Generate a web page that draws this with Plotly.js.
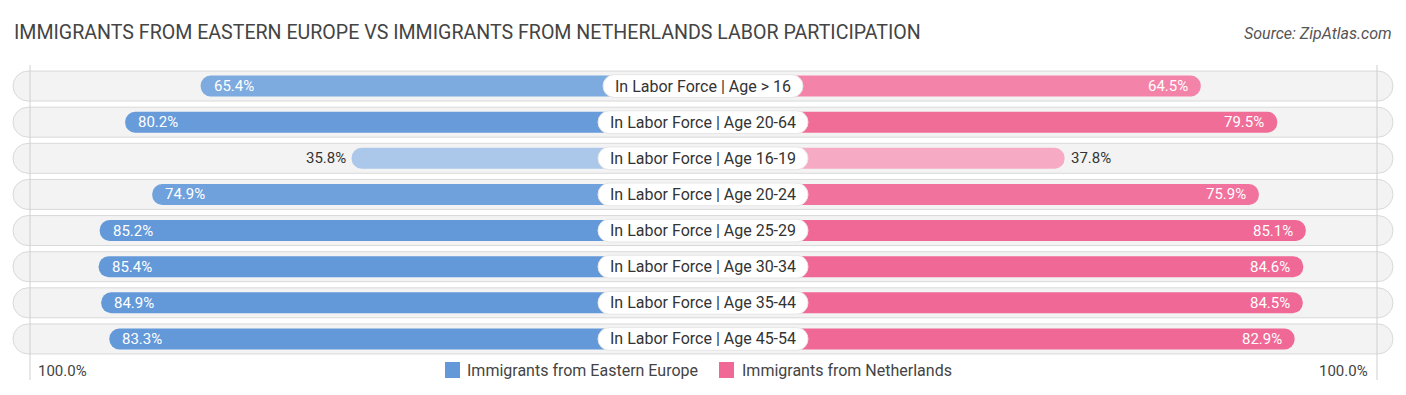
<!DOCTYPE html>
<html>
<head>
<meta charset="utf-8">
<script src="https://cdn.plot.ly/plotly-3.0.1.min.js"></script>
<style>
html,body{margin:0;padding:0;background:#fff;}
#chart{width:1406px;height:395px;}
</style>
</head>
<body>
<div id="chart"></div>
<script>
// ---------------- data ----------------
const categories = [
  "In Labor Force | Age > 16",
  "In Labor Force | Age 20-64",
  "In Labor Force | Age 16-19",
  "In Labor Force | Age 20-24",
  "In Labor Force | Age 25-29",
  "In Labor Force | Age 30-34",
  "In Labor Force | Age 35-44",
  "In Labor Force | Age 45-54"
];
const easternEurope = [65.4, 80.2, 35.8, 74.9, 85.2, 85.4, 84.9, 83.3];
const netherlands   = [64.5, 79.5, 37.8, 75.9, 85.1, 84.6, 84.5, 82.9];
const seriesNames = ["Immigrants from Eastern Europe", "Immigrants from Netherlands"];
const chartTitle = "IMMIGRANTS FROM EASTERN EUROPE VS IMMIGRANTS FROM NETHERLANDS LABOR PARTICIPATION";
const sourceText = "Source: ZipAtlas.com";
const axisMaxLabel = "100.0%";

// ---------------- layout constants ----------------
const W = 1406, H = 395;
const T = 68, B = 38;               // plot margins (px)
const R = 137.84;                   // half range of x axis (units of %)
const OFFSET = 33.1;                // bars start behind the centre label
const PXU = W / (2 * R);            // px per unit
const BLUE = [99, 153, 217];
const PINK = [240, 104, 149];
const FONT = "Roboto, 'Open Sans', sans-serif";

function shade(rgb, v) {
  const k = Math.max(0, Math.min(1, 0.19 + 0.0098 * v));
  const c = rgb.map(ch => Math.round(255 - (255 - ch) * k));
  return `rgb(${c[0]},${c[1]},${c[2]})`;
}
function py(p) { return (H - B - p) / (H - T - B); }
function px(p) { return p / W; }

// measure label widths
const cv = document.createElement("canvas").getContext("2d");
cv.font = "16px Roboto";
const boxW = categories.map(c => (cv.measureText(c).width + 24) / PXU);

const idx = categories.map((_, i) => i);

const traces = [];
// row background pills
traces.push({
  type: "bar", orientation: "h", y: idx,
  x: idx.map(() => 2 * (R - 2.55)), base: idx.map(() => -(R - 2.55)),
  width: 0.83,
  marker: {color: "#f3f3f3", line: {color: "#d9d9d9", width: 1}, cornerradius: 15},
  hoverinfo: "skip", showlegend: false
});
// left bars (continuous from the centre)
traces.push({
  type: "bar", orientation: "h", y: idx, name: seriesNames[0],
  x: easternEurope.map(v => -(OFFSET + v)), base: easternEurope.map(() => 0),
  width: 0.58,
  marker: {color: easternEurope.map(v => shade(BLUE, v)), cornerradius: 10.5},
  hoverinfo: "skip", showlegend: false
});
// right bars
traces.push({
  type: "bar", orientation: "h", y: idx, name: seriesNames[1],
  x: netherlands.map(v => OFFSET + v), base: netherlands.map(() => 0),
  width: 0.58,
  marker: {color: netherlands.map(v => shade(PINK, v)), cornerradius: 10.5},
  hoverinfo: "skip", showlegend: false
});
// centre label boxes
traces.push({
  type: "bar", orientation: "h", y: idx,
  x: boxW, base: boxW.map(w => -w / 2),
  width: 0.63,
  marker: {color: "#ffffff", line: {color: "#e6e6e6", width: 1}, cornerradius: 11.5},
  hoverinfo: "skip", showlegend: false
});

const annotations = [];
categories.forEach((c, i) => {
  annotations.push({x: 0, y: i, xref: "x", yref: "y", text: c, showarrow: false,
    font: {family: FONT, size: 16, color: "#333"}, xanchor: "center", yanchor: "middle"});
  const lv = easternEurope[i], rv = netherlands[i];
  const lin = lv >= 50, rin = rv >= 50;
  annotations.push({x: -(OFFSET + lv), y: i, xref: "x", yref: "y", text: lv.toFixed(1) + "%",
    showarrow: false, xanchor: lin ? "left" : "right", xshift: lin ? 11 : -4, yanchor: "middle",
    font: {family: FONT, size: 15, color: lin ? "#ffffff" : "#333"}});
  annotations.push({x: OFFSET + rv, y: i, xref: "x", yref: "y", text: rv.toFixed(1) + "%",
    showarrow: false, xanchor: rin ? "right" : "left", xshift: rin ? -11 : 4, yanchor: "middle",
    font: {family: FONT, size: 15, color: rin ? "#ffffff" : "#333"}});
});
// title & source
annotations.push({xref: "paper", yref: "paper", x: px(12), y: py(33), text: chartTitle,
  showarrow: false, xanchor: "left", yanchor: "middle",
  font: {family: FONT, size: 19.6, color: "#444"}});
annotations.push({xref: "paper", yref: "paper", x: px(1394), y: py(34), text: "<i>" + sourceText + "</i>",
  showarrow: false, xanchor: "right", yanchor: "middle",
  font: {family: FONT, size: 16, color: "#555"}});
// axis end labels
annotations.push({xref: "paper", yref: "paper", x: px(36), y: py(371), text: axisMaxLabel,
  showarrow: false, xanchor: "left", yanchor: "middle", font: {family: FONT, size: 15, color: "#444"}});
annotations.push({xref: "paper", yref: "paper", x: px(1370), y: py(371), text: axisMaxLabel,
  showarrow: false, xanchor: "right", yanchor: "middle", font: {family: FONT, size: 15, color: "#444"}});
// legend
annotations.push({xref: "paper", yref: "paper", x: px(465), y: py(370), text: seriesNames[0],
  showarrow: false, xanchor: "left", yanchor: "middle", font: {family: FONT, size: 16, color: "#444"}});
annotations.push({xref: "paper", yref: "paper", x: px(740), y: py(370), text: seriesNames[1],
  showarrow: false, xanchor: "left", yanchor: "middle", font: {family: FONT, size: 16, color: "#444"}});

const shapes = [
  {type: "rect", xref: "paper", yref: "paper", x0: px(445), x1: px(460), y0: py(378), y1: py(362),
   fillcolor: shade(BLUE, 100), line: {width: 0}},
  {type: "rect", xref: "paper", yref: "paper", x0: px(719), x1: px(734), y0: py(378), y1: py(362),
   fillcolor: shade(PINK, 100), line: {width: 0}},
  {type: "line", xref: "paper", yref: "paper", x0: px(30), x1: px(30), y0: py(65), y1: py(380),
   line: {color: "#cfcfcf", width: 1}, layer: "above"},
  {type: "line", xref: "paper", yref: "paper", x0: px(1377), x1: px(1377), y0: py(65), y1: py(380),
   line: {color: "#cfcfcf", width: 1}, layer: "above"}
];

const layout = {
  width: W, height: H,
  margin: {l: 0, r: 0, t: T, b: B, pad: 0},
  paper_bgcolor: "#ffffff", plot_bgcolor: "rgba(0,0,0,0)",
  barmode: "overlay",
  showlegend: false,
  xaxis: {range: [-R, R], visible: false, fixedrange: true},
  yaxis: {range: [categories.length - 0.5, -0.5], visible: false, fixedrange: true},
  annotations, shapes,
  font: {family: FONT}
};

Plotly.newPlot("chart", traces, layout, {displayModeBar: false, staticPlot: true});
</script>
</body>
</html>
